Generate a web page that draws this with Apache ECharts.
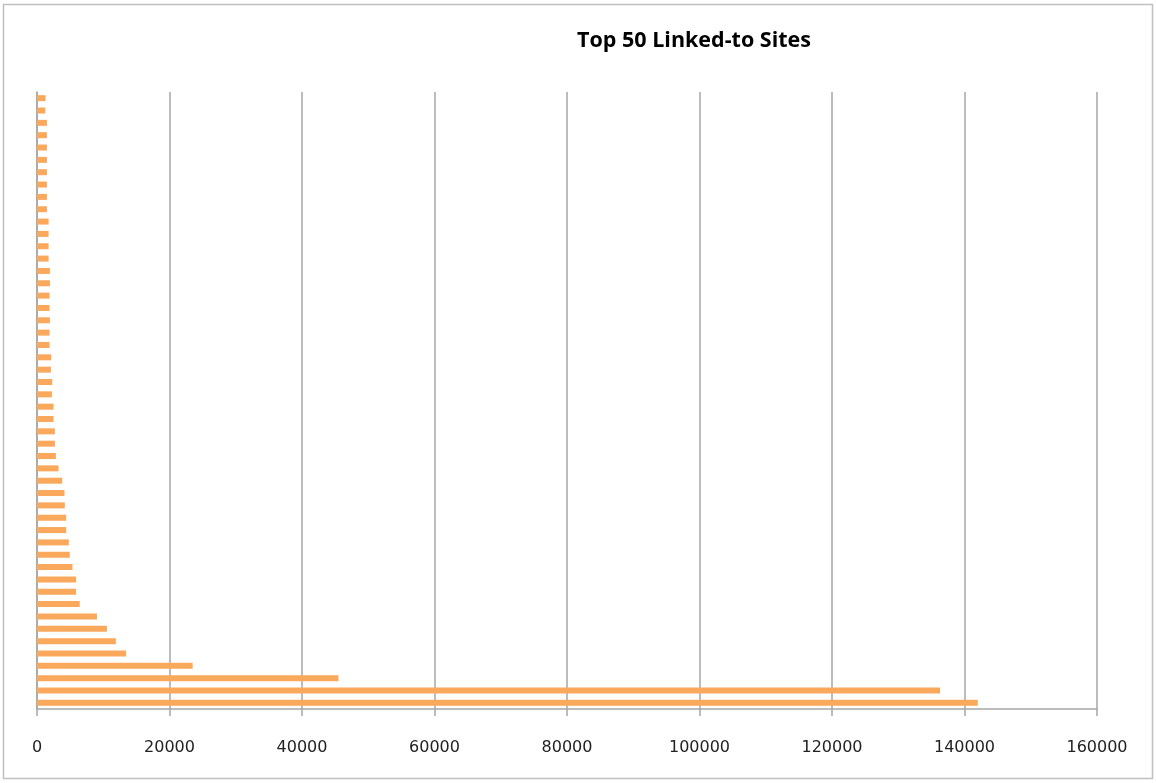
<!DOCTYPE html>
<html>
<head>
<meta charset="utf-8">
<script src="https://cdn.jsdelivr.net/npm/echarts@6/dist/echarts.min.js"></script>
<style>
html,body{margin:0;padding:0;background:#fff;}
#chart{width:1156px;height:783px;}
</style>
</head>
<body>
<div id="chart"></div>
<script>
var title = "Top 50 Linked-to Sites";
// ranks 1..50 (site names are not shown on the chart)
var categories = ["1","2","3","4","5","6","7","8","9","10",
  "11","12","13","14","15","16","17","18","19","20",
  "21","22","23","24","25","26","27","28","29","30",
  "31","32","33","34","35","36","37","38","39","40",
  "41","42","43","44","45","46","47","48","49","50"];
// link counts, rank 1 first (drawn at the bottom)
var linkCounts = [142000, 136300, 45500, 23500, 13450, 11900, 10550, 9050, 6450, 5900,
  5900, 5350, 4950, 4800, 4400, 4400, 4200, 4150, 3800, 3250,
  2850, 2700, 2700, 2500, 2500, 2250, 2300, 2100, 2150, 1900,
  1900, 1950, 1900, 1900, 1950, 1950, 1750, 1750, 1750, 1750,
  1500, 1500, 1500, 1500, 1500, 1500, 1500, 1500, 1250, 1300];
var xTicks = [0, 20000, 40000, 60000, 80000, 100000, 120000, 140000, 160000];

var chart = echarts.init(document.getElementById('chart'), null, {renderer: 'canvas'});
chart.setOption({
  animation: false,
  backgroundColor: '#ffffff',
  graphic: [{
    type: 'rect',
    shape: {x: 3.5, y: 4.5, width: 1149, height: 774},
    style: {fill: 'none', stroke: '#c0c0c0', lineWidth: 1.5},
    silent: true
  }],
  title: {
    text: title,
    left: 689,
    textAlign: 'center',
    top: 25,
    textStyle: {fontFamily: 'Open Sans', fontWeight: 'bold', fontSize: 21.5, color: '#000'}
  },
  grid: {left: 37, right: 59, top: 92, bottom: 74, containLabel: false},
  xAxis: {
    type: 'value',
    min: xTicks[0],
    max: xTicks[xTicks.length - 1],
    interval: xTicks[1] - xTicks[0],
    axisLine: {show: true, lineStyle: {color: '#a6a6a6', width: 1.5}},
    axisTick: {show: true, length: 7, lineStyle: {color: '#a6a6a6', width: 1.5}},
    axisLabel: {margin: 31, fontFamily: 'DejaVu Sans', fontSize: 16, color: '#222',
      formatter: function (v) { return String(v); }},
    splitLine: {show: true, lineStyle: {color: '#a6a6a6', width: 1.5}}
  },
  yAxis: {
    type: 'category',
    data: categories,
    axisLine: {show: true, lineStyle: {color: '#a6a6a6', width: 1.5}},
    axisTick: {show: false},
    axisLabel: {show: false},
    splitLine: {show: false}
  },
  series: [{
    type: 'bar',
    data: linkCounts,
    barWidth: 6,
    itemStyle: {color: '#F9A85C'}
  }]
});
</script>
</body>
</html>
